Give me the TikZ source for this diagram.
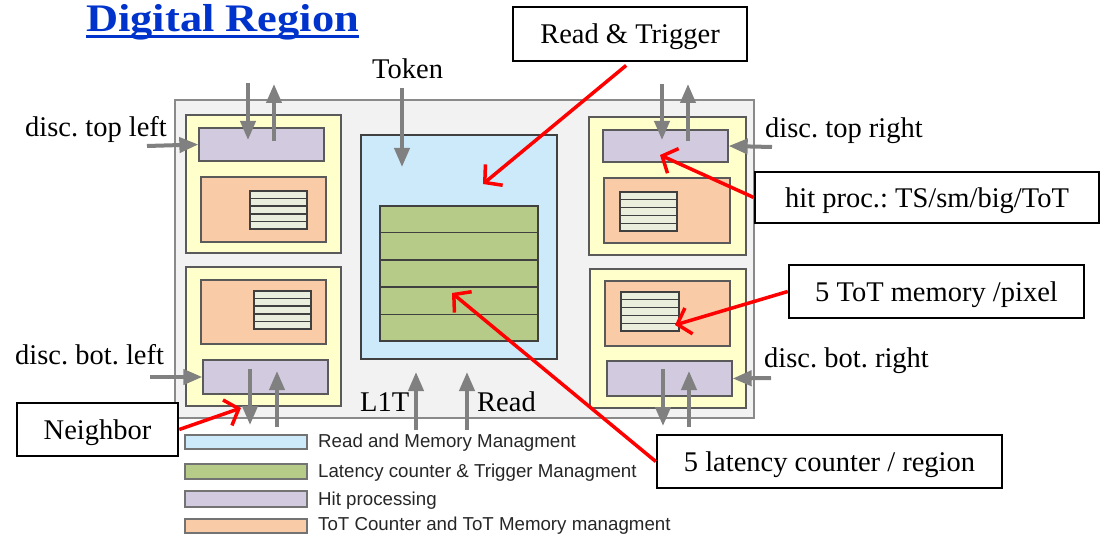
\documentclass[tikz,border=0pt]{standalone}
\usepackage{graphicx}
\usepackage{fontspec}
\setmainfont{Liberation Serif}
\newfontfamily\legendfont{Liberation Sans}
\usetikzlibrary{arrows.meta,fit,calc}
\frenchspacing

\definecolor{regionfill}{HTML}{F2F2F2}
\definecolor{regionline}{HTML}{8A8A8A}
\definecolor{modfill}{HTML}{FFFFCC}
\definecolor{hitfill}{HTML}{D2CADF}
\definecolor{totfill}{HTML}{F9CBA7}
\definecolor{memfill}{HTML}{E9EEDD}
\definecolor{readfill}{HTML}{CCEAFA}
\definecolor{latfill}{HTML}{B7CB88}
\definecolor{sigline}{HTML}{808080}
\definecolor{titleblue}{HTML}{0033CC}
\definecolor{frameline}{HTML}{5A5A5A}

\tikzset{
  blk/.style={draw=frameline, line width=1.3pt, inner sep=0pt},
  regionbox/.style={blk, draw=regionline, fill=regionfill},
  modbox/.style={blk, fill=modfill},
  hitbox/.style={blk, fill=hitfill},
  totbox/.style={blk, fill=totfill},
  stackbox/.style={blk, draw=black!75, fill=memfill},
  readbox/.style={blk, draw=black!75, fill=readfill},
  latbox/.style={blk, draw=black!75, fill=latfill},
  rowline/.style={draw=black!75, line width=1.3pt},
  sig/.style={draw=sigline, line width=4pt, -{Triangle[length=19pt,width=15pt]}},
  pointer/.style={draw=red, line width=3.5pt, -{Straight Barb[length=12pt,width=27pt]}},
  callbox/.style={draw=black, line width=2.5pt, inner sep=0pt, fill=white,
    text depth=0pt, font=\fontsize{28.5}{32}\selectfont},
  lbl/.style={inner sep=0pt, anchor=base west, font=\fontsize{28.5}{32}\selectfont},
  swatch/.style={blk, draw=black!55},
  legtext/.style={inner sep=0pt, anchor=base west, text=black!85,
    font=\legendfont\fontsize{18.7}{21}\selectfont},
}

% a memory stack of five rows
\newcommand\memrows[3]{%
  \node[stackbox, fit={#2 #3}] (#1) {};
  \foreach \k in {1,...,4}
    \draw[rowline] ($(#1.north west)!\k/5!(#1.south west)$) --
                   ($(#1.north east)!\k/5!(#1.south east)$);
}

\begin{document}
\begin{tikzpicture}[x=1pt, y=-1pt]
\useasboundingbox (0,0) rectangle (1105,537);

% title
\node[inner sep=0pt, anchor=base west, text=titleblue,
      font=\fontsize{39}{44}\selectfont\bfseries] (title) at (86,32)
      {\scalebox{1.14}[1]{Digital Region}};
\draw[titleblue, line width=2.5pt]
  ([yshift=-4.5pt]title.base west) -- ([yshift=-4.5pt]title.base east);

% digital region outline
\node[regionbox, fit={(175,100) (754,418)}] (region) {};

% top left pixel module
\node[modbox, fit={(186,115) (341,253)}] (tlmod) {};
\node[hitbox, fit={(199,128) (324,161)}] (tlhit) {};
\node[totbox, fit={(201,177) (326,242)}] (tltot) {};
\memrows{tlmem}{(250,191)}{(307,229)}

% bottom left pixel module
\node[modbox, fit={(186,267) (341,406)}] (blmod) {};
\node[totbox, fit={(201,280) (326,344)}] (bltot) {};
\memrows{blmem}{(254,291)}{(311,329)}
\node[hitbox, fit={(203,360) (328,394)}] (blhit) {};

% top right pixel module
\node[modbox, fit={(589,117) (746,255)}] (trmod) {};
\node[hitbox, fit={(603,130) (728,162)}] (trhit) {};
\node[totbox, fit={(604,178) (730,243)}] (trtot) {};
\memrows{trmem}{(620,192)}{(677,231)}

% bottom right pixel module
\node[modbox, fit={(590,269) (746,408)}] (brmod) {};
\node[totbox, fit={(605,281) (730,346)}] (brtot) {};
\memrows{brmem}{(621,292)}{(679,331)}
\node[hitbox, fit={(607,361) (732,396)}] (brhit) {};

% read / trigger logic with latency counters
\node[readbox, fit={(361,135) (557,359)}] (read) {};
\node[latbox, fit={(380,206) (538,341)}] (lat) {};
\foreach \k in {1,...,4}
  \draw[rowline] ($(lat.north west)!\k/5!(lat.south west)$) --
                 ($(lat.north east)!\k/5!(lat.south east)$);

% signal end points
\coordinate (tlA) at (248,83);  \coordinate (tlB) at (248,140);
\coordinate (tlC) at (274,141); \coordinate (tlD) at (274,84);
\coordinate (tlE) at (147,146);
\coordinate (trA) at (662,84);  \coordinate (trB) at (662,140);
\coordinate (trC) at (688,141); \coordinate (trD) at (688,84);
\coordinate (trE) at (772,147);
\coordinate (blA) at (250,369); \coordinate (blB) at (250,425);
\coordinate (blC) at (277,427); \coordinate (blD) at (277,371);
\coordinate (blE) at (150,377);
\coordinate (brA) at (663,369); \coordinate (brB) at (663,426);
\coordinate (brC) at (689,427); \coordinate (brD) at (689,371);
\coordinate (brE) at (771,378);
\coordinate (tokA) at (402,88);  \coordinate (tokB) at (402,167);
\coordinate (l1A) at (416,430);  \coordinate (l1B) at (416,372);
\coordinate (rdA) at (467,430);  \coordinate (rdB) at (467,372);

% signals
\draw[sig] (tlA) -- (tlB);  \draw[sig] (tlC) -- (tlD);  \draw[sig] (tlE) -- (tlhit.west);
\draw[sig] (trA) -- (trB);  \draw[sig] (trC) -- (trD);  \draw[sig] (trE) -- (trhit.east);
\draw[sig] (blA) -- (blB);  \draw[sig] (blC) -- (blD);  \draw[sig] (blE) -- (blhit.west);
\draw[sig] (brA) -- (brB);  \draw[sig] (brC) -- (brD);  \draw[sig] (brE) -- (brhit.east);
\draw[sig] (tokA) -- (tokB);
\draw[sig] (l1A) -- (l1B);
\draw[sig] (rdA) -- (rdB);

% signal names
\node[lbl] (ltok) at (372,79) {Token};
\node[lbl] (ltl) at (25,137) {disc. top left};
\node[lbl] (ltr) at (765,138) {disc. top right};
\node[lbl] (lbl2) at (15,364) {disc. bot. left};
\node[lbl] (lbr) at (764,367) {disc. bot. right};
\node[lbl] (ll1) at (360,411) {L1T};
\node[lbl] (lrd) at (477,411) {Read};

% callouts
\node[callbox, minimum width=234, minimum height=54] (crt) at (630,34) {Read \& Trigger};
\node[callbox, minimum width=344, minimum height=51] (chp) at (927,197.5) {hit proc.: TS/sm/big/ToT};
\node[callbox, minimum width=295, minimum height=53] (ctm) at (936.5,291.5) {5 ToT memory /pixel};
\node[callbox, minimum width=345, minimum height=53] (clc) at (829.5,461.5) {5 latency counter / region};
\node[callbox, minimum width=161, minimum height=53] (cnb) at (97.5,429.5) {Neighbor};

\coordinate (prt) at (483,184);
\coordinate (php) at (660,155);
\coordinate (ptm) at (675,325);
\coordinate (plc) at (452,293);
\coordinate (pnb) at (241,408);

\draw[pointer, shorten <=5pt] (crt.south) -- (prt);
\draw[pointer] (chp.west) -- (php);
\draw[pointer] (ctm.west) -- (ptm);
\draw[pointer] (clc.west) -- (plc);
\draw[pointer] (cnb.east) -- (pnb);

% legend
\node[swatch, fill=readfill, fit={(185,435) (307,449)}] (k1) {};
\node[swatch, fill=latfill,  fit={(185,464) (307,479)}] (k2) {};
\node[swatch, fill=hitfill,  fit={(185,491) (307,507)}] (k3) {};
\node[swatch, fill=totfill,  fit={(185,519) (307,533)}] (k4) {};
\node[legtext] (t1) at (318,447) {Read and Memory Managment};
\node[legtext] (t2) at (318,477) {Latency counter \& Trigger Managment};
\node[legtext] (t3) at (318,505) {Hit processing};
\node[legtext] (t4) at (318,530) {ToT Counter and ToT Memory managment};
\end{tikzpicture}
\end{document}
